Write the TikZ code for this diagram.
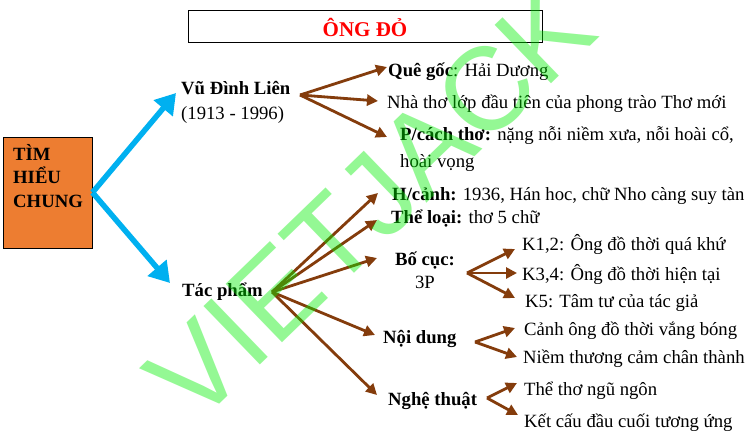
\documentclass[tikz,border=0pt]{standalone}
\usepackage{fontspec}
\setmainfont{Liberation Serif}
\newfontfamily\wmfont{Liberation Sans}
\usetikzlibrary{arrows.meta}
\definecolor{brn}{RGB}{132,60,12}
\definecolor{cyanb}{RGB}{0,176,240}
\definecolor{orng}{RGB}{237,125,49}
\definecolor{wmgreen}{RGB}{0,240,0}
\begin{document}
\begin{tikzpicture}[x=1pt,y=-1pt,
  txt/.style={inner sep=0pt,anchor=base west,font=\fontsize{18.7}{22}\selectfont},
  ctxt/.style={txt,anchor=base},
  bluearrow/.style={draw=cyanb,line width=5.5pt,-{Triangle[width=24pt,length=20pt]}},
  brarrow/.style={draw=brn,line width=2.8pt,-{Triangle[width=11pt,length=11pt]}},
  sidebox/.style={draw=black,line width=1pt,fill=orng,minimum width=89pt,minimum height=111pt,inner sep=0pt},
  titlebox/.style={draw=black,line width=1pt,minimum width=354pt,minimum height=32pt,inner sep=0pt,
    text=red,font=\bfseries\fontsize{21}{24}\selectfont}
]
\useasboundingbox (0,0) rectangle (750,436);
\fill[white] (0,0) rectangle (750,436);

% title
\node[titlebox] (title) at (365,27) {ÔNG ĐỎ};

% left box
\node[sidebox] (tim) at (47.5,192.5) {};
\node[txt,font=\bfseries\fontsize{18.7}{22}\selectfont] (tim1) at (13,160) {TÌM};
\node[txt,font=\bfseries\fontsize{18.7}{22}\selectfont] (tim2) at (13,183) {HIỂU};
\node[txt,font=\bfseries\fontsize{18.7}{22}\selectfont] (tim3) at (13,207) {CHUNG};

% level 1
\node[txt] (vdl) at (181,95) {\textbf{Vũ Đình Liên}};
\node[txt] (vdl2) at (181,120) {(1913 - 1996)};
\node[txt] (tp) at (182,296) {\textbf{Tác phẩm}};

\coordinate (tipA) at (176,93);
\coordinate (tipB) at (170,283);
\draw[bluearrow] (tim.east) -- (tipA);
\draw[bluearrow] (tim.east) -- (tipB);

% Vu Dinh Lien branch
\node[txt] (q) at (388,77) {\textbf{Quê gốc}: Hải Dương};
\node[txt] (n) at (387,108) {Nhà thơ lớp đầu tiên của phong trào Thơ mới};
\node[txt] (p) at (400,140) {\textbf{P/cách thơ:} nặng nỗi niềm xưa, nỗi hoài cổ,};
\node[txt] (p2) at (400,167) {hoài vọng};

\coordinate (o1) at (300,95);
\coordinate (t1) at (387,67);
\coordinate (t2) at (378,101);
\coordinate (t3) at (387,137);
\draw[brarrow] (o1) -- (t1);
\draw[brarrow] (o1) -- (t2);
\draw[brarrow] (o1) -- (t3);

% Tac pham branch
\node[txt] (h) at (392,200) {\textbf{H/cảnh:} 1936, Hán hoc, chữ Nho càng suy tàn};
\node[txt] (tl) at (391,223) {\textbf{Thể loại:} thơ 5 chữ};
\node[ctxt] (bc) at (425,265) {\textbf{Bố cục:}};
\node[ctxt] (bc2) at (425,288) {3P};
\node[txt] (nd) at (383,343) {\textbf{Nội dung}};
\node[txt] (nt) at (388,405) {\textbf{Nghệ thuật}};

\coordinate (o2) at (272,292);
\coordinate (u1) at (378,193);
\coordinate (u2) at (377,220);
\coordinate (u3) at (377,258);
\coordinate (u4) at (375,335);
\coordinate (u5) at (377,395);
\draw[brarrow] (o2) -- (u1);
\draw[brarrow] (o2) -- (u2);
\draw[brarrow] (o2) -- (u3);
\draw[brarrow] (o2) -- (u4);
\draw[brarrow] (o2) -- (u5);

% Bo cuc
\node[txt] (k1) at (522,250) {K1,2: Ông đồ thời quá khứ};
\node[txt] (k3) at (522,280) {K3,4: Ông đồ thời hiện tại};
\node[txt] (k5) at (525,307) {K5: Tâm tư của tác giả};
\coordinate (o3) at (467,273);
\coordinate (v1) at (515,249);
\coordinate (v2) at (517,273);
\coordinate (v3) at (515,298);
\draw[brarrow] (o3) -- (v1);
\draw[brarrow] (o3) -- (v2);
\draw[brarrow] (o3) -- (v3);

% Noi dung
\node[txt] (c1) at (524,335) {Cảnh ông đồ thời vắng bóng};
\node[txt] (c2) at (523,363) {Niềm thương cảm chân thành};
\coordinate (o4) at (475,342);
\coordinate (w1) at (515,328);
\coordinate (w2) at (517,357);
\draw[brarrow] (o4) -- (w1);
\draw[brarrow] (o4) -- (w2);

% Nghe thuat
\node[txt] (s1) at (524,395) {Thể thơ ngũ ngôn};
\node[txt] (s2) at (524,427) {Kết cấu đầu cuối tương ứng};
\coordinate (o5) at (487,398);
\coordinate (z1) at (517,383);
\coordinate (z2) at (518,415);
\draw[brarrow] (o5) -- (z1);
\draw[brarrow] (o5) -- (z2);

% watermark
\node[rotate=44,inner sep=0pt,text=wmgreen,text opacity=0.42,font=\wmfont\fontsize{118}{118}\selectfont] (wm) at (370,202) {VIETJACK};
\end{tikzpicture}
\end{document}
